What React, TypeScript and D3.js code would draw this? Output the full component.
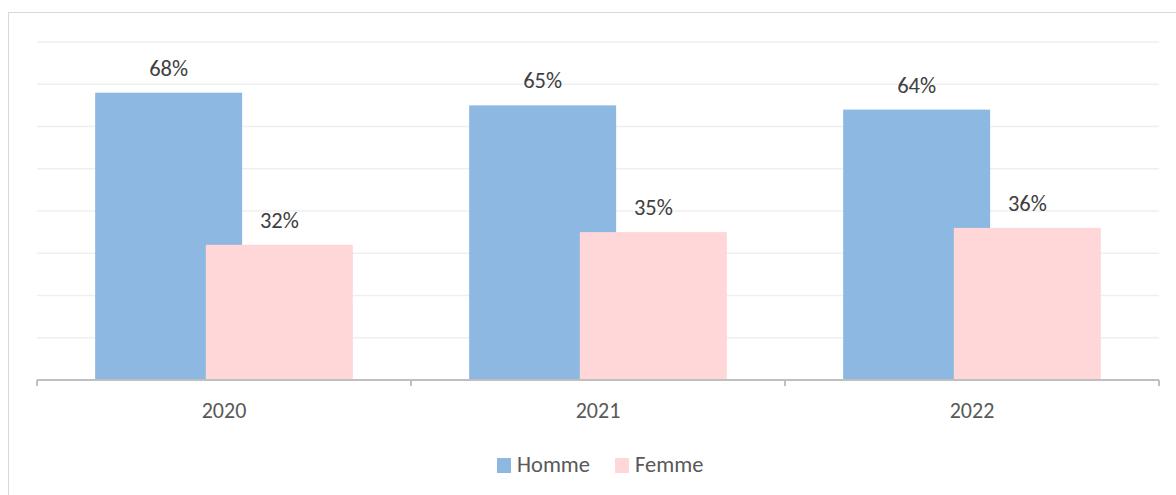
import React from 'react';
import * as d3 from 'd3';

const years = ['2020', '2021', '2022'];
const homme = [68, 65, 64];
const femme = [32, 35, 36];
const seriesNames = ['Homme', 'Femme'];
const seriesColors = ['#8db8e2', '#ffd7d9'];

const W = 1176;
const H = 495;

const App = () => {
  // plot area
  const left = 37, right = 1159, top = 42, bottom = 380;

  const x = d3.scaleBand().domain(years).range([left, right]).padding(0);
  const y = d3.scaleLinear().domain([0, 80]).range([bottom, top]);

  const bw = x.bandwidth();
  const barW = bw * 0.393;
  const shift = bw * 0.148; // bars overlap each other

  const font = "Carlito, Calibri, 'Open Sans', 'Noto Sans', sans-serif";

  const series = [homme, femme];

  return (
    <svg
      width={W}
      height={H}
      style={{ position: 'absolute', left: 0, top: 0, background: '#fff' }}
    >
      <rect x={8.5} y={12.5} width={W} height={H} fill="#fff" stroke="#d9d9d9" />

      {/* gridlines */}
      {y.ticks(8).filter((t) => t > 0).map((t) => (
        <line key={t} x1={left} x2={right} y1={y(t)} y2={y(t)} stroke="#efefef" strokeWidth={1.3} />
      ))}

      {/* bars: Homme first, Femme drawn over it */}
      {series.map((vals, si) =>
        years.map((yr, i) => {
          const cx = x(yr)! + bw / 2 + (si === 0 ? -shift : shift);
          return (
            <rect
              key={yr + si}
              x={cx - barW / 2}
              y={y(vals[i])}
              width={barW}
              height={bottom - y(vals[i])}
              fill={seriesColors[si]}
            />
          );
        })
      )}

      {/* value labels */}
      {series.map((vals, si) =>
        years.map((yr, i) => {
          const cx = x(yr)! + bw / 2 + (si === 0 ? -shift : shift);
          return (
            <text
              key={'l' + yr + si}
              x={cx}
              y={y(vals[i]) - 17}
              textAnchor="middle"
              fontFamily={font}
              fontSize={22.5}
              fill="#404040"
            >
              {vals[i] + '%'}
            </text>
          );
        })
      )}

      {/* axis */}
      <line x1={left} x2={right} y1={bottom} y2={bottom} stroke="#bfbfbf" strokeWidth={2} />
      {[...years.map((yr) => x(yr)!), right].map((tx, i) => (
        <line key={'t' + i} x1={tx} x2={tx} y1={bottom} y2={bottom + 6} stroke="#bfbfbf" strokeWidth={2} />
      ))}
      {years.map((yr) => (
        <text
          key={'c' + yr}
          x={x(yr)! + bw / 2}
          y={418}
          textAnchor="middle"
          fontFamily={font}
          fontSize={22}
          fill="#595959"
        >
          {yr}
        </text>
      ))}

      {/* legend */}
      {seriesNames.map((name, i) => {
        const lx = i === 0 ? 497 : 615;
        return (
          <g key={name}>
            <rect x={lx} y={458} width={14} height={15} fill={seriesColors[i]} />
            <text x={lx + 20} y={472} fontFamily={font} fontSize={22.5} fill="#595959">
              {name}
            </text>
          </g>
        );
      })}
    </svg>
  );
};

export default App;
